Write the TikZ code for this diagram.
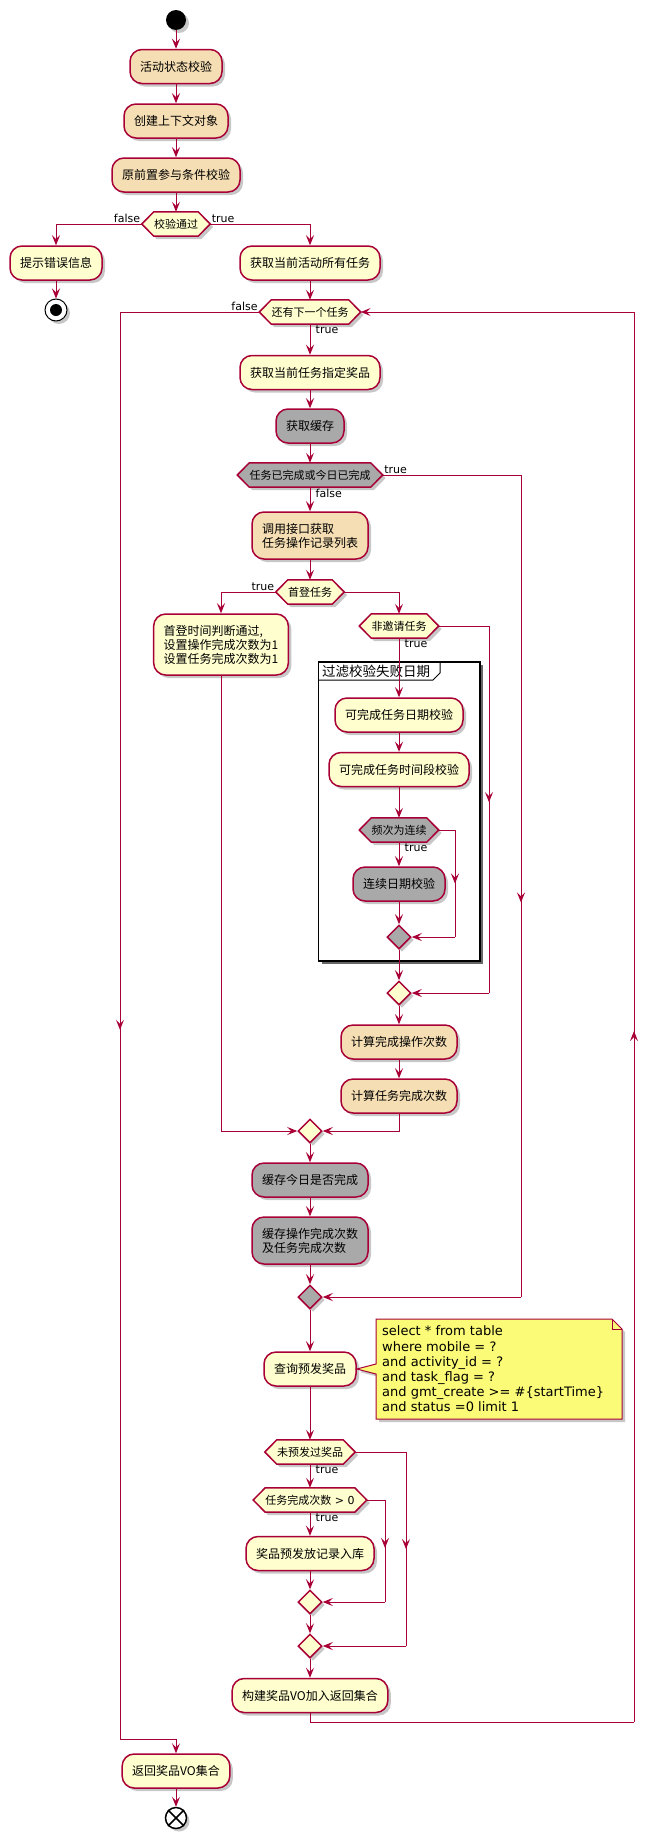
\documentclass[tikz,border=0pt]{standalone}
\usepackage{fontspec}
\setmainfont{Noto Sans CJK SC}
\newfontfamily\latfont{DejaVu Sans}
\usetikzlibrary{arrows.meta,shapes.geometric,shadows,backgrounds,decorations.markings}
\definecolor{pborder}{HTML}{A80036}
\definecolor{pyellow}{HTML}{FEFECE}
\definecolor{pwheat}{HTML}{F5DEB3}
\definecolor{pgrey}{HTML}{A9A9A9}
\definecolor{pnote}{HTML}{FBFB77}
\tikzset{
 pshadow/.style={drop shadow={shadow xshift=3pt,shadow yshift=-3pt,opacity=0.22,fill=black}},
 actbox/.style={rectangle, rounded corners=12pt, draw=pborder, line width=1.5pt, fill=pyellow, pshadow, inner xsep=10pt, inner ysep=0pt, minimum height=34pt, font=\fontsize{12}{14}\selectfont, align=left},
 wheatbox/.style={actbox, fill=pwheat},
 greybox/.style={actbox, fill=pgrey},
 hexbox/.style={rectangle, inner xsep=12pt, inner ysep=0pt, minimum height=24pt, font=\fontsize{11}{13}\selectfont},
 hexshape/.style={draw=pborder, line width=1.5pt, pshadow},
 merge/.style={diamond, draw=pborder, line width=1.5pt, fill=pyellow, pshadow, minimum width=24pt, minimum height=24pt, inner sep=0pt},
 flow/.style={draw=pborder, line width=1pt, -{Stealth[length=10pt,width=8pt,inset=4pt]}},
 plain/.style={draw=pborder, line width=1pt},
 midarrow/.style={postaction={decorate}, decoration={markings, mark=at position #1 with {\arrow{Stealth[length=10pt,width=8pt,inset=4pt]}}}},
 lbl/.style={font=\latfont\fontsize{11}{13}\selectfont, inner sep=1.5pt},
 startnode/.style={circle, fill=black, minimum size=20pt, inner sep=0pt, pshadow},
 stopnode/.style={circle, draw=black, line width=1pt, fill=white, minimum size=22pt, inner sep=0pt, pshadow},
 endnode/.style={circle, draw=black, line width=1.5pt, fill=white, minimum size=21pt, inner sep=0pt, pshadow},
 partframe/.style={rectangle, draw=black, line width=1.5pt, fill=white, inner sep=0pt, drop shadow={shadow xshift=3pt,shadow yshift=-3pt,opacity=0.6,fill=black}},
 partlabel/.style={font=\fontsize{13.5}{15}\selectfont, anchor=west, inner sep=0pt},
 notestyle/.style={draw=pborder, line width=1pt, fill=pnote, pshadow},
 notetext/.style={font=\latfont\fontsize{13}{15.2}\selectfont, align=left, anchor=west, inner sep=0pt},
}
\newcommand\hexat[4]{%
  \node[hexbox] (#1) at (#2) {#4};
  \begin{scope}[on background layer]
    \path[hexshape, fill=#3] (#1.west) -- ([xshift=12pt]#1.north west) -- ([xshift=-12pt]#1.north east) -- (#1.east) -- ([xshift=-12pt]#1.south east) -- ([xshift=12pt]#1.south west) -- cycle;
  \end{scope}}
\begin{document}
\begin{tikzpicture}[x=1pt,y=-1pt]
\useasboundingbox (0,0) rectangle (658,1839);
\begin{scope}[on background layer]
\node[partframe, minimum width=161.5pt, minimum height=299pt] (part) at (399.25,811.5) {};
\end{scope}
\coordinate (p1) at (318.5,680);
\coordinate (p2) at (433,680);
\coordinate (p3) at (440,673);
\coordinate (p4) at (440,662);
\draw[black, line width=1pt] (p1) -- (p2) -- (p3) -- (p4);
\node[partlabel] (ptitle) at (322,671) {过滤校验失败日期};

\node[startnode] (start) at (176,20) {};
\node[wheatbox] (n1) at (176,66.5) {活动状态校验};
\node[wheatbox] (n2) at (176,121) {创建上下文对象};
\node[wheatbox] (n3) at (176,175) {原前置参与条件校验};
\hexat{h1}{176,224}{pyellow}{校验通过}
\node[actbox] (n4) at (56,263) {提示错误信息};
\node[stopnode] (stop1) at (56,310) {};
\fill (stop1.center) circle (6pt);
\node[actbox] (n5) at (310,263) {获取当前活动所有任务};
\hexat{h2}{310,312}{pyellow}{还有下一个任务}
\node[actbox] (n6) at (310,372.5) {获取当前任务指定奖品};
\node[greybox] (n7) at (310,426) {获取缓存};
\hexat{h3}{310,475}{pgrey}{任务已完成或今日已完成}
\node[wheatbox, minimum height=47pt] (n8) at (310,535.5) {调用接口获取\\任务操作记录列表};
\hexat{h4}{310,592}{pyellow}{首登任务}
\node[actbox, minimum height=61pt] (n9) at (221,644.5) {首登时间判断通过,\\设置操作完成次数为1\\设置任务完成次数为1};
\hexat{h5}{399,626}{pyellow}{非邀请任务}
\node[actbox] (n10) at (399,715) {可完成任务日期校验};
\node[actbox] (n11) at (399,769.5) {可完成任务时间段校验};
\hexat{h6}{399,830}{pgrey}{频次为连续}
\node[greybox] (n12) at (399,884) {连续日期校验};
\node[merge, fill=pgrey] (d1) at (399,937) {};
\node[merge] (d2) at (399,993) {};
\node[wheatbox] (n13) at (399,1042) {计算完成操作次数};
\node[wheatbox] (n14) at (399,1096) {计算任务完成次数};
\node[merge] (d3) at (310,1131) {};
\node[greybox] (n15) at (310,1180) {缓存今日是否完成};
\node[greybox, minimum height=47pt] (n16) at (310,1240.5) {缓存操作完成次数\\及任务完成次数};
\node[merge, fill=pgrey] (d4) at (310,1297) {};
\node[actbox] (n17) at (310,1369) {查询预发奖品};
\path[notestyle] (376,1319) -- (612,1319) -- (622,1329) -- (622,1419) -- (376,1419) -- (376,1374) -- (n17.east) -- (376,1364) -- cycle;
\draw[pborder, line width=1pt] (612,1319) -- (612,1329) -- (622,1329);
\node[notetext] (note) at (382,1369) {select * from table\\where mobile = ?\\and activity\_id = ?\\and task\_flag = ?\\and gmt\_create >= \#\{startTime\}\\and status =0 limit 1};
\hexat{h7}{310,1452}{pyellow}{未预发过奖品}
\hexat{h8}{310,1500}{pyellow}{任务完成次数{\latfont\ > 0}}
\node[actbox] (n18) at (310,1553.5) {奖品预发放记录入库};
\node[merge] (d5) at (310,1602) {};
\node[merge] (d6) at (310,1646) {};
\node[actbox] (n19) at (310,1695.5) {构建奖品VO加入返回集合};
\node[actbox] (n20) at (176,1771) {返回奖品VO集合};
\node[endnode] (fin) at (176,1818) {};
\draw[black, line width=1.5pt] (fin.north west) -- (fin.south east) (fin.north east) -- (fin.south west);

% coordinates for bends
\coordinate (r1) at (521,475);
\coordinate (r2) at (521,1297);
\coordinate (s1) at (489,626);
\coordinate (s2) at (489,993);
\coordinate (t1) at (455,830);
\coordinate (t2) at (455,937);
\coordinate (u1) at (406,1452);
\coordinate (u2) at (406,1646);
\coordinate (v1) at (385,1500);
\coordinate (v2) at (385,1602);
\coordinate (w1) at (310,1722);
\coordinate (w2) at (634,1722);
\coordinate (w3) at (634,312);
\coordinate (z1) at (120,312);
\coordinate (z2) at (120,1739);
\coordinate (z3) at (176,1739);

% connectors
\draw[flow] (start) -- (n1);
\draw[flow] (n1) -- (n2);
\draw[flow] (n2) -- (n3);
\draw[flow] (n3.south) -- (h1.north);
\draw[flow] (h1.west) -| (n4.north);
\draw[flow] (h1.east) -| (n5.north);
\draw[flow] (n4) -- (stop1);
\draw[flow] (n5.south) -- (h2.north);
\draw[flow] (h2.south) -- (n6.north);
\draw[flow] (n6) -- (n7);
\draw[flow] (n7.south) -- (h3.north);
\draw[flow] (h3.south) -- (n8.north);
\draw[plain] (h3.east) -- (r1);
\draw[plain, midarrow=0.52] (r1) -- (r2);
\draw[flow] (r2) -- (d4.east);
\draw[flow] (n8.south) -- (h4.north);
\draw[flow] (h4.west) -| (n9.north);
\draw[flow] (h4.east) -| (h5.north);
\draw[flow] (h5.south) -- (n10.north);
\draw[plain] (h5.east) -- (s1);
\draw[plain, midarrow=0.48] (s1) -- (s2);
\draw[flow] (s2) -- (d2.east);
\draw[flow] (n10) -- (n11);
\draw[flow] (n11.south) -- (h6.north);
\draw[flow] (h6.south) -- (n12.north);
\draw[plain] (h6.east) -- (t1);
\draw[plain, midarrow=0.5] (t1) -- (t2);
\draw[flow] (t2) -- (d1.east);
\draw[flow] (n12) -- (d1);
\draw[flow] (d1) -- (d2);
\draw[flow] (d2) -- (n13);
\draw[flow] (n13) -- (n14);
\draw[flow] (n14.south) |- (d3.east);
\draw[flow] (n9.south) |- (d3.west);
\draw[flow] (d3) -- (n15);
\draw[flow] (n15) -- (n16);
\draw[flow] (n16) -- (d4);
\draw[flow] (d4) -- (n17);
\draw[flow] (n17.south) -- (h7.north);
\draw[flow] (h7.south) -- (h8.north);
\draw[plain] (h7.east) -- (u1);
\draw[plain, midarrow=0.5] (u1) -- (u2);
\draw[flow] (u2) -- (d6.east);
\draw[flow] (h8.south) -- (n18.north);
\draw[plain] (h8.east) -- (v1);
\draw[plain, midarrow=0.47] (v1) -- (v2);
\draw[flow] (v2) -- (d5.east);
\draw[flow] (n18) -- (d5);
\draw[flow] (d5) -- (d6);
\draw[flow] (d6) -- (n19);
\draw[plain] (n19.south) -- (w1) -- (w2);
\draw[plain, midarrow=0.49] (w2) -- (w3);
\draw[flow] (w3) -- (h2.east);
\draw[plain] (h2.west) -- (z1);
\draw[plain, midarrow=0.503] (z1) -- (z2);
\draw[flow] (z2) -- (z3) -- (n20.north);
\draw[flow] (n20) -- (fin);

% labels
\node[lbl, anchor=south east] (l1) at (h1.west) {false};
\node[lbl, anchor=south west] (l2) at (h1.east) {true};
\node[lbl, anchor=south east] (l3) at (h2.west) {false};
\node[lbl, anchor=north west] (l4) at ([xshift=4pt]h2.south) {true};
\node[lbl, anchor=south west] (l5) at (h3.east) {true};
\node[lbl, anchor=north west] (l6) at ([xshift=4pt]h3.south) {false};
\node[lbl, anchor=south east] (l7) at (h4.west) {true};
\node[lbl, anchor=north west] (l8) at ([xshift=4pt]h5.south) {true};
\node[lbl, anchor=north west] (l9) at ([xshift=4pt]h6.south) {true};
\node[lbl, anchor=north west] (l10) at ([xshift=4pt]h7.south) {true};
\node[lbl, anchor=north west] (l11) at ([xshift=4pt]h8.south) {true};
\end{tikzpicture}
\end{document}
